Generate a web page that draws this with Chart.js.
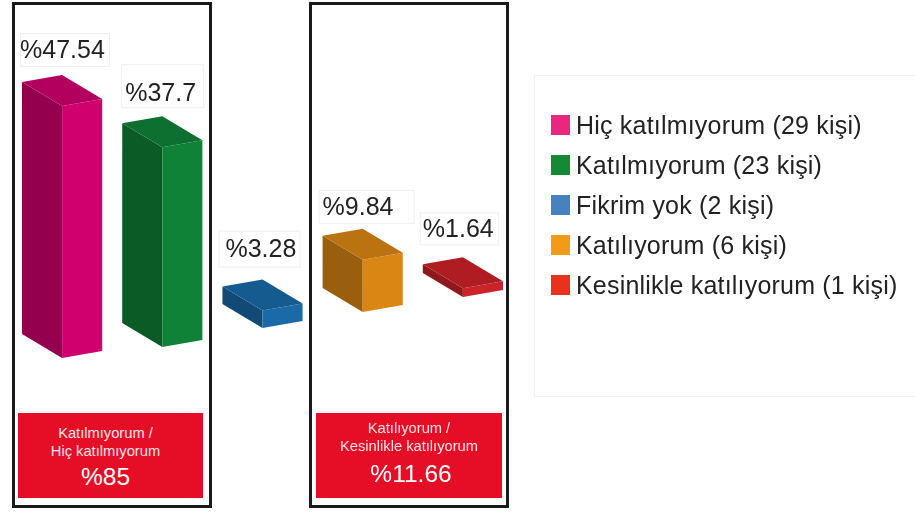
<!DOCTYPE html>
<html>
<head>
<meta charset="utf-8">
<style>
body { margin: 0; background: #fff; font-family: "Liberation Sans", Arial, sans-serif; }
#wrap { position: relative; width: 915px; height: 512px; overflow: hidden; filter: blur(0.4px); }
#chart { position: absolute; left: 0; top: 0; }
.frame { position: absolute; top: 2px; width: 194px; height: 500px; border: 3px solid #1a1a1a; }
.sum { position: absolute; top: 413px; height: 85px; background: #e60d26; color: #fbe4e6; text-align: center; font-size: 14.7px; }
.sum div { position: absolute; left: 0; right: 0; line-height: 18px; white-space: nowrap; }
.sum .big { font-size: 24.5px; line-height: 28px; color: #fff; }
#legend { position: absolute; left: 534px; top: 75px; width: 381px; height: 320px; border: 1px solid #f1f1f1; border-right: 0; }
#legend .row { position: absolute; left: 16px; height: 26px; line-height: 26px; font-size: 25px; letter-spacing: 0.2px; color: #222; white-space: nowrap; }
#legend i { position: absolute; left: 0; top: 3px; width: 19px; height: 20px; }
#legend span { position: absolute; left: 25px; top: 0; }
</style>
</head>
<body>
<div id="wrap">
    <div class="frame" style="left: 12px"></div>
    <div class="frame" style="left: 309px"></div>
    <div class="sum" style="left: 18px; width: 185px">
        <div style="top: 11px; right: 10px">Katılmıyorum /</div>
        <div style="top: 29px; right: 10px">Hiç katılmıyorum</div>
        <div class="big" style="top: 50px; right: 10px">%85</div>
    </div>
    <div class="sum" style="left: 316px; width: 186px">
        <div style="top: 6px">Katılıyorum /</div>
        <div style="top: 24px">Kesinlikle katılıyorum</div>
        <div class="big" style="top: 47px; left: 4px">%11.66</div>
    </div>
    <canvas id="chart" width="915" height="512"></canvas>
    <div id="legend"></div>
</div>
<script src="https://cdn.jsdelivr.net/npm/chart.js@4"></script>
<script>
"use strict";
const categories = ["Hiç katılmıyorum", "Katılmıyorum", "Fikrim yok", "Katılıyorum", "Kesinlikle katılıyorum"];
const percents = [47.54, 37.7, 3.28, 9.84, 1.64];
const people = [29, 23, 2, 6, 1];
const bar_colors = ["#d0006f", "#108238", "#1a6aa8", "#da8614", "#cc2229"];
const legend_colors = ["#e8277f", "#148a37", "#4682be", "#f39a17", "#e8321e"];

// how far each bar sits up the slanted floor, px
const floor_lift = [0, 11, 30, 46, 61];
// value label box per bar, relative to the bar's left edge and back corner
const label_boxes = [
    { x: -2, y: -42, w: 90, h: 34, tx: -2 },
    { x: -1, y: -52, w: 83, h: 44, tx: 3, ty: 7 },
    { x: -4, y: -49, w: 82, h: 37, tx: 3 },
    { x: -4, y: -39, w: 96, h: 34, tx: 0 },
    { x: -3, y: -45, w: 79, h: 33, tx: 0 }
];

function shade(hex, f) {
    const n = parseInt(hex.slice(1), 16);
    const r = Math.round((n >> 16) * f);
    const g = Math.round(((n >> 8) & 255) * f);
    const b = Math.round((n & 255) * f);
    return "rgb(" + r + "," + g + "," + b + ")";
}

function face(ctx, pts, color) {
    ctx.beginPath();
    ctx.moveTo(pts[0][0], pts[0][1]);
    for (let i = 1; i < pts.length; i++) ctx.lineTo(pts[i][0], pts[i][1]);
    ctx.closePath();
    ctx.fillStyle = color;
    ctx.fill();
}

// replaces the flat bars with little boxes, geometry comes from the bar elements
const box_bars = {
    id: "box_bars",
    beforeDatasetDraw(chart, args) {
        const ctx = chart.ctx;
        args.meta.data.forEach((el, i) => {
            const p = el.getProps(["x", "y", "base", "width"], true);
            const half = p.width / 2;
            const top = p.y - floor_lift[i];
            const bottom = p.base - floor_lift[i];
            const l = p.x - half;
            const r = p.x + half;
            const color = bar_colors[i];
            face(ctx, [[l, top - 24], [p.x, top], [p.x, bottom], [l, bottom - 24]], shade(color, 0.7));
            face(ctx, [[p.x, top], [r, top - 7], [r, bottom - 7], [p.x, bottom]], color);
            face(ctx, [[l, top - 24], [p.x, top - 31], [r, top - 7], [p.x, top]], shade(color, 0.86));

            const b = label_boxes[i];
            const apex = top - 31;
            ctx.fillStyle = "#fff";
            ctx.fillRect(l + b.x, apex + b.y, b.w, b.h);
            ctx.strokeStyle = "#efefef";
            ctx.lineWidth = 1;
            ctx.strokeRect(l + b.x + 0.5, apex + b.y + 0.5, b.w - 1, b.h - 1);
            ctx.fillStyle = "#222";
            ctx.font = '25px "Liberation Sans", Arial, sans-serif';
            ctx.textAlign = "left";
            ctx.textBaseline = "middle";
            ctx.fillText("%" + percents[i], l + b.tx, apex + b.y + b.h / 2 + 1 + (b.ty || 0));
        });
        return false;
    }
};

new Chart(document.getElementById("chart"), {
    type: "bar",
    data: {
        labels: categories,
        datasets: [{
            label: "%",
            data: percents,
            backgroundColor: bar_colors,
            categoryPercentage: 1,
            barPercentage: 0.8
        }]
    },
    options: {
        responsive: false,
        animation: false,
        layout: {
            padding: { left: 12, right: 402, top: 40, bottom: 154 }
        },
        scales: {
            x: { display: false },
            y: { display: false, min: 0, max: 60 }
        },
        plugins: {
            legend: { display: false },
            tooltip: { enabled: false }
        }
    },
    plugins: [box_bars]
});

const legend = document.getElementById("legend");
categories.forEach((name, i) => {
    const row = document.createElement("div");
    row.className = "row";
    row.style.top = (36 + i * 40) + "px";
    row.innerHTML = '<i style="background:' + legend_colors[i] + '"></i><span>' + name + " (" + people[i] + " kişi)</span>";
    legend.appendChild(row);
});
</script>
</body>
</html>
